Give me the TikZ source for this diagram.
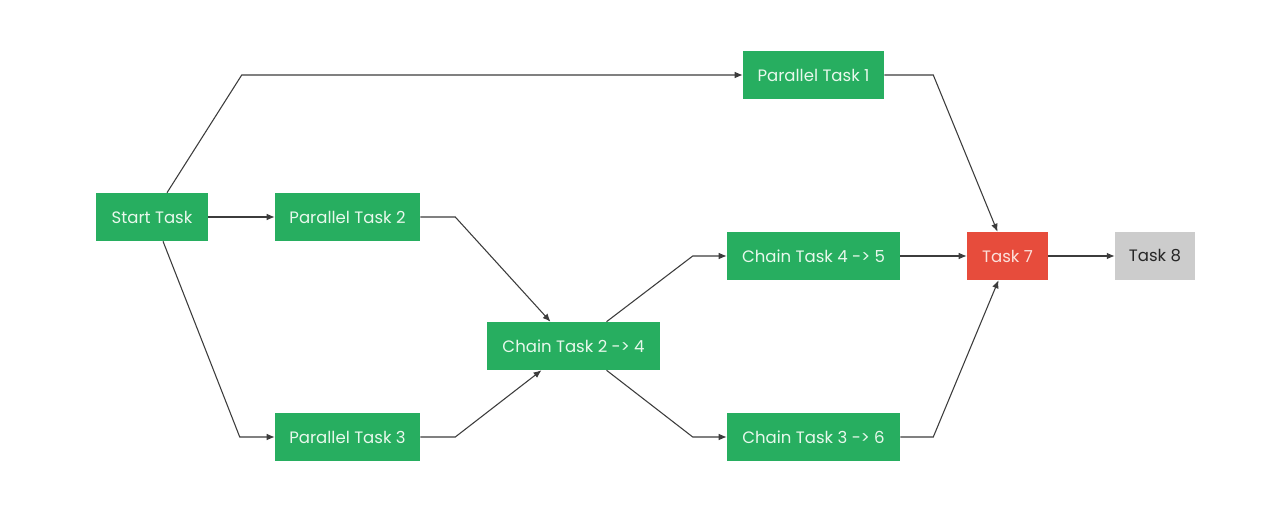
\documentclass[tikz,border=0pt]{standalone}
\usepackage{fontspec}
\setmainfont{Poppins}
\usetikzlibrary{calc,arrows.meta}
\definecolor{tgreen}{RGB}{39,174,96}
\definecolor{gtext}{RGB}{232,248,236}
\definecolor{tred}{RGB}{231,76,60}
\definecolor{rtext}{RGB}{252,225,220}
\definecolor{tgray}{RGB}{204,204,204}
\definecolor{linec}{RGB}{60,60,60}
\begin{document}
\begin{tikzpicture}[x=0.75pt,y=-0.75pt,
 box/.style={rectangle, inner sep=0pt, minimum height=36pt, font=\fontsize{12.4}{14}\selectfont},
 gbox/.style={box, fill=tgreen, text=gtext},
 conn/.style={draw=linec, line width=0.8pt, -{Latex[length=6pt,width=5pt]}},
]
\useasboundingbox[fill=white] (0,0) rectangle (1280,520);
\node[gbox, minimum width=84pt] (start) at (152,217) {Start Task};
\node[gbox, minimum width=108.75pt] (p2) at (347.5,217) {Parallel Task 2};
\node[gbox, minimum width=105.75pt] (p1) at (813.5,75) {Parallel Task 1};
\node[gbox, minimum width=108.75pt] (p3) at (347.5,437) {Parallel Task 3};
\node[gbox, minimum width=129.75pt] (c24) at (573.5,346) {Chain Task 2 -> 4};
\node[gbox, minimum width=129.75pt] (c45) at (813.5,256) {Chain Task 4 -> 5};
\node[gbox, minimum width=129.75pt] (c36) at (813.5,437) {Chain Task 3 -> 6};
\node[box, fill=tred, text=rtext, minimum width=60.75pt] (t7) at (1007.5,256) {Task 7};
\node[box, fill=tgray, text=black!85, minimum width=60pt] (t8) at (1155,256) {Task 8};

\draw[conn] ($(start.north)+(15,0)$) -- ($(p1.west)-(501,0)$) -- (p1.west);
\draw[conn] (start.east) -- (p2.west);
\draw[conn] ($(start.south)+(11,0)$) -- ($(p3.west)-(35,0)$) -- (p3.west);
\draw[conn] (p2.east) -- ($(p2.east)+(35,0)$) -- ($(c24.north)-(23,0)$);
\draw[conn] (p3.east) -- ($(p3.east)+(35,0)$) -- ($(c24.south)-(32,0)$);
\draw[conn] ($(c24.north)+(33,0)$) -- ($(c45.west)-(34,0)$) -- (c45.west);
\draw[conn] ($(c24.south)+(33,0)$) -- ($(c36.west)-(34,0)$) -- (c36.west);
\draw[conn] (p1.east) -- ($(p1.east)+(49,0)$) -- ($(t7.north)-(10,0)$);
\draw[conn] (c45.east) -- (t7.west);
\draw[conn] (c36.east) -- ($(c36.east)+(33,0)$) -- ($(t7.south)-(9,0)$);
\draw[conn] (t7.east) -- (t8.west);
\end{tikzpicture}
\end{document}
